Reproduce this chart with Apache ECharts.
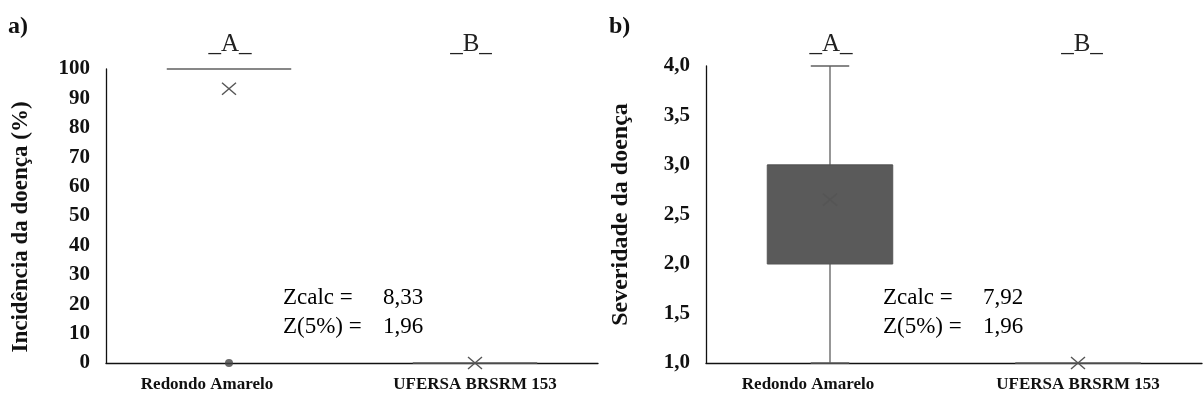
<!DOCTYPE html>
<html>
<head>
<meta charset="utf-8">
<script src="https://cdn.jsdelivr.net/npm/echarts@6/dist/echarts.min.js"></script>
<style>
html,body{margin:0;padding:0;background:#fff;}
#c{width:1204px;height:403px;}
</style>
</head>
<body>
<div id="c"></div>
<script>
// ---- data ----
var categories = ['Redondo Amarelo', 'UFERSA BRSRM 153'];
// box stats: [categoryIndex, min, q1, median, q3, max]
var incidenceBoxes = [[0, 100, 100, 100, 100, 100], [1, 0, 0, 0, 0, 0]];
var incidenceMeans = [[0, 93.3], [1, 0]];
var incidenceOutliers = [[0, 0]];
var severityBoxes = [[0, 1, 2, 3, 3, 4], [1, 1, 1, 1, 1, 1]];
var severityMeans = [[0, 2.65], [1, 1]];
var severityOutliers = [];
var groupLetters = ['_A_', '_B_'];
var incidenceStats = ['8,33', '1,96'];
var severityStats = ['7,92', '1,96'];
var statNames = ['Zcalc =', 'Z(5%) ='];

var SERIF = '"Liberation Serif","Times New Roman",serif';
var LINE = '#5f5f5f';
var FILL = '#5a5a5a';

function renderBox(params, api) {
  var i = api.value(0);
  var c0 = api.coord([i, api.value(1)]);
  var cx = c0[0], yMin = c0[1];
  var yQ1 = api.coord([i, api.value(2)])[1];
  var yMed = api.coord([i, api.value(3)])[1];
  var yQ3 = api.coord([i, api.value(4)])[1];
  var yMax = api.coord([i, api.value(5)])[1];
  var band = api.size([1, 0])[0];
  var bw = band * 0.506, cw = band * 0.155;
  var st = {stroke: LINE, lineWidth: 1.3, fill: null};
  var ch = [];
  if (yMax < yQ3 - 0.5) {
    ch.push({type: 'line', shape: {x1: cx, y1: yQ3, x2: cx, y2: yMax}, style: st});
    ch.push({type: 'line', shape: {x1: cx - cw / 2, y1: yMax, x2: cx + cw / 2, y2: yMax}, style: st});
  }
  if (yMin > yQ1 + 0.5) {
    ch.push({type: 'line', shape: {x1: cx, y1: yQ1, x2: cx, y2: yMin}, style: st});
    ch.push({type: 'line', shape: {x1: cx - cw / 2, y1: yMin, x2: cx + cw / 2, y2: yMin}, style: st});
  }
  if (yQ1 - yQ3 > 0.5) {
    ch.push({type: 'rect', shape: {x: cx - bw / 2, y: yQ3, width: bw, height: yQ1 - yQ3},
      style: {fill: FILL, stroke: '#555', lineWidth: 1}});
    ch.push({type: 'line', shape: {x1: cx - bw / 2, y1: yMed, x2: cx + bw / 2, y2: yMed},
      style: {stroke: '#555', lineWidth: 1}});
  } else {
    ch.push({type: 'line', shape: {x1: cx - bw / 2, y1: yQ1, x2: cx + bw / 2, y2: yQ1},
      style: {stroke: LINE, lineWidth: 1.6}});
  }
  return {type: 'group', children: ch};
}

function renderMean(params, api) {
  var p = api.coord([api.value(0), api.value(1)]);
  var hw = 7, hh = 6;
  var st = {stroke: '#555', lineWidth: 1.4};
  return {type: 'group', children: [
    {type: 'line', shape: {x1: p[0] - hw, y1: p[1] - hh, x2: p[0] + hw, y2: p[1] + hh}, style: st},
    {type: 'line', shape: {x1: p[0] - hw, y1: p[1] + hh, x2: p[0] + hw, y2: p[1] - hh}, style: st}
  ]};
}

function xAxisCfg(gi) {
  return {
    type: 'category', gridIndex: gi, data: categories, boundaryGap: true,
    axisLine: {lineStyle: {color: '#111', width: 1.3}},
    axisTick: {show: false},
    axisLabel: {
      margin: 13, interval: 0,
      formatter: function (v, idx) { return idx === 0 ? '{a|' + v + '}' : '{b|' + v + '}'; },
      rich: {
        a: {fontFamily: SERIF, fontWeight: 'bold', fontSize: 17, color: '#111', padding: [0, 44, 0, 0]},
        b: {fontFamily: SERIF, fontWeight: 'bold', fontSize: 17, color: '#111'}
      }
    },
    splitLine: {show: false}
  };
}

function statText(x, vals) {
  return {
    type: 'text', left: x, top: 286,
    style: {
      text: '{l|' + statNames[0] + '}{v|' + vals[0] + '}\n{l|' + statNames[1] + '}{v|' + vals[1] + '}',
      rich: {
        l: {fontFamily: SERIF, fontSize: 23, color: '#222', width: 100, lineHeight: 29},
        v: {fontFamily: SERIF, fontSize: 23, color: '#222', lineHeight: 29}
      }
    }
  };
}

function letter(x, t) {
  return {type: 'text', x: x, y: 44, style: {text: t, fontFamily: SERIF, fontSize: 25, fill: '#222',
    textAlign: 'center', textVerticalAlign: 'middle'}};
}

var chart = echarts.init(document.getElementById('c'), null, {renderer: 'canvas'});
chart.setOption({
  backgroundColor: '#fff',
  animation: false,
  grid: [
    {left: 106, top: 69, width: 492, height: 294},
    {left: 706, top: 66, width: 496, height: 297}
  ],
  xAxis: [xAxisCfg(0), xAxisCfg(1)],
  yAxis: [
    {
      type: 'value', gridIndex: 0, min: 0, max: 100, interval: 10,
      name: 'Incidência da doença (%)', nameLocation: 'middle', nameGap: 73,
      nameTextStyle: {fontFamily: SERIF, fontWeight: 'bold', fontSize: 23, color: '#111', padding: [0, 22, 0, 0]},
      axisLine: {show: true, lineStyle: {color: '#111', width: 1.3}},
      axisTick: {show: false}, splitLine: {show: false},
      axisLabel: {fontFamily: SERIF, fontWeight: 'bold', fontSize: 21, color: '#111', margin: 16}
    },
    {
      type: 'value', gridIndex: 1, min: 1, max: 4, interval: 0.5,
      name: 'Severidade da doença', nameLocation: 'middle', nameGap: 73,
      nameTextStyle: {fontFamily: SERIF, fontWeight: 'bold', fontSize: 24, color: '#111'},
      axisLine: {show: true, lineStyle: {color: '#111', width: 1.3}},
      axisTick: {show: false}, splitLine: {show: false},
      axisLabel: {fontFamily: SERIF, fontWeight: 'bold', fontSize: 21, color: '#111', margin: 16,
        formatter: function (v) { return v.toFixed(1).replace('.', ','); }}
    }
  ],
  series: [
    {type: 'custom', xAxisIndex: 0, yAxisIndex: 0, renderItem: renderBox, data: incidenceBoxes,
      encode: {x: 0, y: [1, 2, 3, 4, 5]}, z: 3},
    {type: 'custom', xAxisIndex: 0, yAxisIndex: 0, renderItem: renderMean, data: incidenceMeans,
      encode: {x: 0, y: 1}, z: 4},
    {type: 'scatter', xAxisIndex: 0, yAxisIndex: 0, data: incidenceOutliers, symbol: 'circle',
      symbolSize: 8, itemStyle: {color: '#444'}, z: 4},
    {type: 'custom', xAxisIndex: 1, yAxisIndex: 1, renderItem: renderBox, data: severityBoxes,
      encode: {x: 0, y: [1, 2, 3, 4, 5]}, z: 3},
    {type: 'custom', xAxisIndex: 1, yAxisIndex: 1, renderItem: renderMean, data: severityMeans,
      encode: {x: 0, y: 1}, z: 4},
    {type: 'scatter', xAxisIndex: 1, yAxisIndex: 1, data: severityOutliers, symbol: 'circle',
      symbolSize: 8, itemStyle: {color: '#444'}, z: 4}
  ],
  graphic: [
    {type: 'text', left: 8, top: 15, style: {text: 'a)', fontFamily: SERIF, fontWeight: 'bold', fontSize: 24, fill: '#111'}},
    {type: 'text', left: 609, top: 15, style: {text: 'b)', fontFamily: SERIF, fontWeight: 'bold', fontSize: 24, fill: '#111'}},
    letter(230, groupLetters[0]), letter(471, groupLetters[1]),
    letter(831, groupLetters[0]), letter(1082, groupLetters[1]),
    statText(283, incidenceStats),
    statText(883, severityStats)
  ]
});
</script>
</body>
</html>
